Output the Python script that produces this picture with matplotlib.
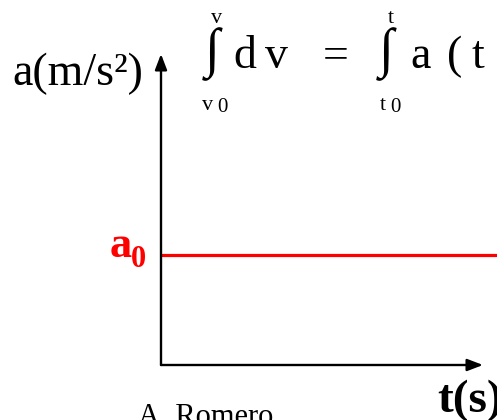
import matplotlib
matplotlib.use("Agg")
import matplotlib.pyplot as plt

# data: constant acceleration a0 over time
t_vals = [0, 10]
a0_val = 1.0
a_vals = [a0_val, a0_val]
t_range = (0, 10)
a_range = (0, 2.83)

W, H = 497, 420
plt.rcParams['font.family'] = ['Liberation Serif', 'DejaVu Serif']


def px(x, y):
    # pixel position (top-left origin) -> figure fraction
    return x / W, 1 - y / H


fig = plt.figure(figsize=(W / 100, H / 100), dpi=100)
fig.patch.set_facecolor('white')

# plot area: y axis at x=161, x axis at y=365, arrow tip at y=54
left, bottom = px(161, 365)
right, top = px(497, 54)
ax = fig.add_axes([left, bottom, right - left, top - bottom])
ax.set_xlim(*t_range)
ax.set_ylim(*a_range)
ax.axis('off')

# red line a = a0
ax.plot(t_vals, a_vals, color='#ff0000', lw=2.3, clip_on=False, solid_capstyle='butt', zorder=3)

# axes arrows
arrow = dict(arrowstyle='-|>,head_length=0.47,head_width=0.18', color='black',
             lw=1.7, mutation_scale=20, shrinkA=0, shrinkB=0)
ax.annotate('', xy=(0, 1), xytext=(0, 0), xycoords='axes fraction',
            textcoords='axes fraction', arrowprops=arrow)
ax.annotate('', xy=((483 - 161) / 336, 0), xytext=(0, 0), xycoords='axes fraction',
            textcoords='axes fraction', arrowprops=arrow)

# axis labels
fig.text(*px(12, 85), 'a(m/s²)', fontsize=33, va='baseline', ha='left')
fig.text(*px(437, 412), 't(s)', fontsize=34, fontweight='bold', va='baseline', ha='left')
fig.text(*px(110, 257), 'a', fontsize=32, fontweight='bold', color='#ff0000', va='baseline', ha='left')
fig.text(*px(131, 267), '0', fontsize=22, fontweight='bold', color='#ff0000', va='baseline', ha='left')
fig.text(*px(138, 425), 'A. Romero', fontsize=22, va='baseline', ha='left')

# equation  int_{v0}^{v} dv = int_{t0}^{t} a(t)
for xc in (212, 386):
    fig.text(*px(xc, 54), '∫', fontsize=39, va='center', ha='center')
fig.text(*px(217, 23), 'v', fontsize=16, va='baseline', ha='center')
fig.text(*px(391, 23), 't', fontsize=16, va='baseline', ha='center')
fig.text(*px(202, 110), 'v', fontsize=16, va='baseline', ha='left')
fig.text(*px(217, 112), '0', fontsize=15, va='baseline', ha='left')
fig.text(*px(380, 110), 't', fontsize=16, va='baseline', ha='left')
fig.text(*px(390, 112), '0', fontsize=15, va='baseline', ha='left')
fig.text(*px(233, 68), 'd', fontsize=33, va='baseline', ha='left')
fig.text(*px(265, 68), 'v', fontsize=33, va='baseline', ha='left')
fig.text(*px(323, 68), '=', fontsize=33, va='baseline', ha='left')
fig.text(*px(410, 68), 'a', fontsize=33, va='baseline', ha='left')
fig.text(*px(447, 68), '(', fontsize=33, va='baseline', ha='left')
fig.text(*px(472, 68), 't', fontsize=33, va='baseline', ha='left')
fig.text(*px(496, 68), ')', fontsize=33, va='baseline', ha='left')

fig.savefig('out.png', dpi=100, facecolor='white')
